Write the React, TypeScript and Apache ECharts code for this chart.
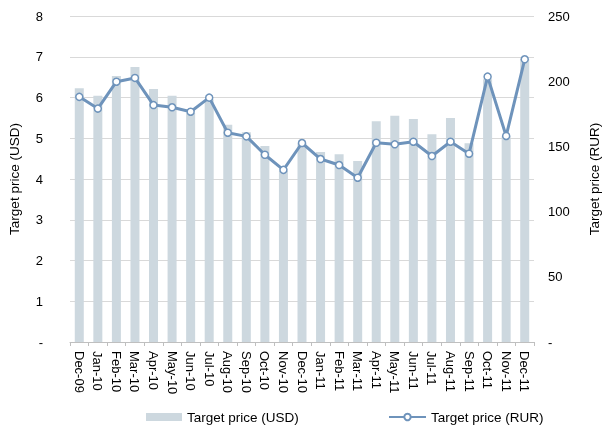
import React, { useEffect, useRef } from "react";
import * as echarts from "echarts";

const categories = [
  "Dec-09", "Jan-10", "Feb-10", "Mar-10", "Apr-10", "May-10", "Jun-10", "Jul-10",
  "Aug-10", "Sep-10", "Oct-10", "Nov-10", "Dec-10", "Jan-11", "Feb-11", "Mar-11",
  "Apr-11", "May-11", "Jun-11", "Jul-11", "Aug-11", "Sep-11", "Oct-11", "Nov-11", "Dec-11",
];

const usdValues = [
  6.23, 6.04, 6.53, 6.75, 6.21, 6.04, 5.62, 5.95,
  5.33, 5.15, 4.81, 4.2, 4.88, 4.66, 4.61, 4.44,
  5.42, 5.55, 5.47, 5.1, 5.5, 4.88, 6.45, 5.05, 6.95,
];

const rurValues = [
  188, 179, 199.6, 202.5, 181.7, 180, 176.6, 187.4,
  160.5, 157.7, 143.6, 132, 152.6, 140.3, 135.7, 126,
  152.8, 151.6, 153.6, 142.6, 153.6, 144.4, 203.5, 158, 216.8,
];

const FONT = "'Liberation Sans', Arial, sans-serif";
const FS = 13;

export default function App() {
  const ref = useRef<HTMLDivElement>(null);
  useEffect(() => {
    if (!ref.current) return;
    const chart = echarts.init(ref.current, undefined, { renderer: "svg" });
    const legendText = { fontFamily: FONT, fontSize: 13.5, color: "#000" };
    chart.setOption({
      animation: false,
      textStyle: { fontFamily: FONT },
      grid: {
        left: 70,
        right: 68,
        top: 16,
        bottom: 84,
        containLabel: false,
        outerBoundsMode: "none",
      },
      legend: [
        {
          top: 405,
          left: 141,
          itemWidth: 36,
          itemHeight: 8,
          itemGap: 4,
          textStyle: legendText,
          data: [{ name: "Target price (USD)", icon: "rect" }],
        },
        {
          top: 405,
          left: 383,
          itemWidth: 37,
          itemHeight: 8,
          textStyle: legendText,
          data: [{ name: "Target price (RUR)" }],
        },
      ],
      xAxis: {
        type: "category",
        data: categories,
        boundaryGap: true,
        axisLine: { lineStyle: { color: "#bfbfbf" } },
        axisTick: { show: true, length: 4, lineStyle: { color: "#bfbfbf" } },
        axisLabel: {
          rotate: -90,
          interval: 0,
          color: "#000",
          fontSize: FS,
          fontFamily: FONT,
          margin: 9,
        },
      },
      yAxis: [
        {
          type: "value",
          min: 0,
          max: 8,
          interval: 1,
          name: "Target price (USD)",
          nameLocation: "middle",
          nameGap: 49,
          nameRotate: 90,
          nameTextStyle: { color: "#000", fontSize: 13.5, fontFamily: FONT },
          axisLine: { show: false },
          axisTick: { show: false },
          splitLine: { lineStyle: { color: "#d9d9d9" } },
          axisLabel: {
            color: "#000",
            fontSize: FS,
            fontFamily: FONT,
            margin: 27,
            formatter: (v: number) => (v === 0 ? "-" : String(v)),
          },
        },
        {
          type: "value",
          min: 0,
          max: 250,
          interval: 50,
          name: "Target price (RUR)",
          nameLocation: "middle",
          nameGap: 53,
          nameRotate: 90,
          nameTextStyle: { color: "#000", fontSize: 13.5, fontFamily: FONT },
          axisLine: { show: false },
          axisTick: { show: false },
          splitLine: { show: false },
          axisLabel: {
            color: "#000",
            fontSize: FS,
            fontFamily: FONT,
            margin: 14,
            formatter: (v: number) => (v === 0 ? "-" : String(v)),
          },
        },
      ],
      series: [
        {
          name: "Target price (USD)",
          type: "bar",
          yAxisIndex: 0,
          data: usdValues,
          barWidth: 9,
          itemStyle: { color: "#cdd8df" },
        },
        {
          name: "Target price (RUR)",
          type: "line",
          yAxisIndex: 1,
          data: rurValues,
          symbol: "circle",
          symbolSize: 7,
          lineStyle: { color: "#6e93bb", width: 3 },
          itemStyle: { color: "#ffffff", borderColor: "#6e93bb", borderWidth: 1.5 },
        },
      ],
    });
    return () => chart.dispose();
  }, []);
  return (
    <div
      ref={ref}
      style={{ position: "fixed", left: 0, top: 0, width: 602, height: 426 }}
    />
  );
}
